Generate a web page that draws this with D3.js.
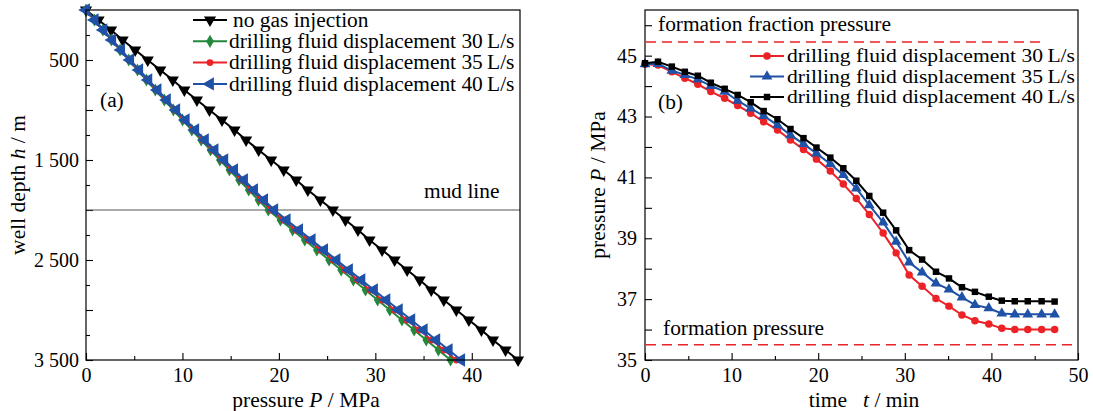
<!DOCTYPE html>
<html>
<head>
<meta charset="utf-8">
<script src="https://cdn.jsdelivr.net/npm/d3@7"></script>
<style>
  body { margin: 0; background: #fff; }
  text { font-family: "Liberation Serif", "Times New Roman", serif; fill: #000; }
</style>
</head>
<body>
<div id="chart"></div>
<script>
////////////////////////////////////////////////////////////
///////////////////////// Data /////////////////////////////
////////////////////////////////////////////////////////////

// (a) well depth every 100 m
var depths = [0, 100, 200, 300, 400, 500, 600, 700, 800, 900, 1000, 1100, 1200, 1300, 1400, 1500, 1600, 1700,
  1800, 1900, 2000, 2100, 2200, 2300, 2400, 2500, 2600, 2700, 2800, 2900, 3000, 3100, 3200, 3300, 3400, 3500]
var noGas = [0, 1.3, 2.6, 3.8, 5.1, 6.4, 7.7, 9.0, 10.2, 11.5, 12.8, 14.1, 15.4, 16.6, 17.9, 19.2, 20.5, 21.8,
  23.0, 24.3, 25.6, 26.9, 28.2, 29.4, 30.7, 32.0, 33.3, 34.6, 35.8, 37.1, 38.4, 39.7, 41.0, 42.2, 43.5, 44.8]
var depthQ30 = [0, 0.87, 1.75, 2.63, 3.53, 4.43, 5.34, 6.26, 7.18, 8.12, 9.06, 10.01, 10.97, 11.94, 12.91, 13.88, 14.87, 15.87,
  16.87, 17.88, 18.9, 20.16, 21.42, 22.68, 23.94, 25.2, 26.46, 27.72, 28.98, 30.24, 31.5, 32.76, 34.02, 35.28, 36.54, 37.8]
var depthQ35 = [0, 0.89, 1.78, 2.68, 3.59, 4.51, 5.43, 6.37, 7.3, 8.26, 9.21, 10.17, 11.15, 12.13, 13.12, 14.11, 15.11, 16.13,
  17.15, 18.17, 19.2, 20.48, 21.76, 23.04, 24.32, 25.6, 26.88, 28.16, 29.44, 30.72, 32.0, 33.28, 34.56, 35.84, 37.12, 38.4]
var depthQ40 = [0, 0.9, 1.81, 2.72, 3.65, 4.58, 5.52, 6.47, 7.42, 8.39, 9.36, 10.34, 11.33, 12.33, 13.33, 14.34, 15.36, 16.39,
  17.43, 18.47, 19.52, 20.81, 22.1, 23.4, 24.69, 25.98, 27.27, 28.56, 29.86, 31.15, 32.44, 33.73, 35.02, 36.32, 37.61, 38.9]
var mudLine = 2000

// (b) bottom hole pressure vs time
var times = [0, 1.5, 3.1, 4.6, 6.1, 7.6, 9.2, 10.7, 12.2, 13.7, 15.3, 16.8, 18.3, 19.8, 21.4, 22.9,
  24.4, 25.9, 27.5, 29.0, 30.5, 32.0, 33.6, 35.1, 36.6, 38.1, 39.7, 41.2, 42.7, 44.2, 45.8, 47.3]
var timeQ30 = [44.72, 44.69, 44.47, 44.26, 44.06, 43.82, 43.60, 43.36, 43.11, 42.83, 42.56, 42.23, 41.92, 41.60, 41.21, 40.78,
  40.31, 39.78, 39.17, 38.52, 37.79, 37.42, 37.02, 36.77, 36.48, 36.29, 36.18, 36.04, 36.00, 36.00, 36.00, 36.00]
var timeQ35 = [44.72, 44.73, 44.51, 44.37, 44.22, 44.01, 43.82, 43.52, 43.27, 43.02, 42.72, 42.39, 42.10, 41.79, 41.44, 41.08,
  40.64, 40.09, 39.52, 38.89, 38.21, 37.88, 37.52, 37.32, 37.06, 36.81, 36.70, 36.53, 36.50, 36.50, 36.50, 36.50]
var timeQ40 = [44.75, 44.80, 44.64, 44.47, 44.34, 44.11, 43.91, 43.71, 43.47, 43.18, 42.91, 42.59, 42.29, 41.98, 41.65, 41.30,
  40.89, 40.39, 39.84, 39.26, 38.61, 38.30, 37.90, 37.68, 37.39, 37.24, 37.08, 36.95, 36.93, 36.93, 36.93, 36.92]
var fracturePressure = 45.45
var formationPressure = 35.5

var labelsA = ["no gas injection", "drilling fluid displacement 30\u2009L/s",
  "drilling fluid displacement 35\u2009L/s", "drilling fluid displacement 40\u2009L/s"]
var labelsB = ["drilling fluid displacement 30\u2009L/s", "drilling fluid displacement 35\u2009L/s",
  "drilling fluid displacement 40\u2009L/s"]

////////////////////////////////////////////////////////////
/////////////////////// Set up /////////////////////////////
////////////////////////////////////////////////////////////

var totalWidth = 1093, totalHeight = 411
var svg = d3.select('#chart').append('svg')
  .attr('width', totalWidth).attr('height', totalHeight)

var FS = 20
var STRETCH = 1.07 // reference typeface is a bit wider than Liberation Serif
var black = '#000', green = '#22883a', red = '#ec2227', blue = '#1f52a6'

var xA = d3.scaleLinear().domain([0, 45]).range([86, 520])
var yA = d3.scaleLinear().domain([0, 3500]).range([10, 360])
var xB = d3.scaleLinear().domain([0, 50]).range([645, 1078])
var yB = d3.scaleLinear().domain([35, 46.5]).range([360, 10])

var fmtThousands = d => d >= 1000 ? Math.floor(d / 1000) + " " + d3.format("03")(d % 1000) : d

function styleAxis(g) {
  g.selectAll('path.domain').remove()
  g.selectAll('line').attr('stroke', '#000').attr('stroke-width', 1.1)
  g.selectAll('text').attr('font-size', FS).attr('fill', '#000')
    .style('font-family', '"Liberation Serif", "Times New Roman", serif')
}

////////////////////////////////////////////////////////////
///////////////////////// (a) //////////////////////////////
////////////////////////////////////////////////////////////

var gA = svg.append('g')

gA.append('g').attr('transform', 'translate(0,360)')
  .call(d3.axisBottom(xA).tickValues(d3.range(0, 41, 10)).tickSizeInner(-7).tickSizeOuter(0).tickPadding(8))
  .call(styleAxis)
gA.append('g').attr('transform', 'translate(0,360)')
  .call(d3.axisBottom(xA).tickValues(d3.range(5, 45, 10)).tickSizeInner(-4).tickSizeOuter(0).tickFormat(''))
  .call(styleAxis)
gA.append('g').attr('transform', 'translate(86,0)')
  .call(d3.axisLeft(yA).tickValues(d3.range(500, 3501, 500)).tickSizeInner(-7).tickSizeOuter(0).tickPadding(7)
    .tickFormat(d => d % 1000 === 500 ? fmtThousands(d) : ''))
  .call(styleAxis)
gA.append('g').attr('transform', 'translate(86,0)')
  .call(d3.axisLeft(yA).tickValues(d3.range(250, 3500, 500)).tickSizeInner(-4).tickSizeOuter(0).tickFormat(''))
  .call(styleAxis)

// mud line
gA.append('line')
  .attr('x1', xA(0)).attr('x2', xA(45)).attr('y1', yA(mudLine)).attr('y2', yA(mudLine))
  .attr('stroke', '#555').attr('stroke-width', 1)
gA.append('text').attr('class', 'stretch').attr('x', 424).attr('y', yA(mudLine) - 12)
  .attr('font-size', FS).text('mud line')

var seriesA = [
  {vals: noGas, color: black, type: d3.symbolTriangle, size: 64, rot: 180},
  {vals: depthQ30, color: green, type: d3.symbolDiamond, size: 50, rot: 0},
  {vals: depthQ35, color: red, type: d3.symbolCircle, size: 36, rot: 0},
  {vals: depthQ40, color: blue, type: d3.symbolTriangle, size: 78, rot: -90}
]

var lineA = d3.line().x(d => xA(d.p)).y(d => yA(d.h))

seriesA.forEach(s => {
  var pts = depths.map((h, i) => ({h: h, p: s.vals[i]}))
  gA.append('path').datum(pts).attr('d', lineA)
    .attr('fill', 'none').attr('stroke', s.color).attr('stroke-width', 2)
  gA.selectAll(null).data(pts).enter().append('path')
    .attr('d', d3.symbol().type(s.type).size(s.size))
    .attr('transform', d => 'translate(' + xA(d.p) + ',' + yA(d.h) + ') rotate(' + s.rot + ')')
    .attr('fill', s.color)
})

// legend (a)
seriesA.forEach((s, i) => {
  var y = 20 + i * 21.3
  var g = gA.append('g')
  g.append('line').attr('x1', 193).attr('x2', 227).attr('y1', y).attr('y2', y)
    .attr('stroke', s.color).attr('stroke-width', 2)
  g.append('path').attr('d', d3.symbol().type(s.type).size(s.size))
    .attr('transform', 'translate(210,' + y + ') rotate(' + s.rot + ')').attr('fill', s.color)
  g.append('text').attr('class', 'stretch').attr('x', i === 0 ? 233 : 229).attr('y', y).attr('dy', '0.33em')
    .attr('font-size', FS).text(labelsA[i])
})

gA.append('text').attr('class', 'stretch').attr('x', 100).attr('y', 107).attr('font-size', FS).text('(a)')

gA.append('rect').attr('x', 86).attr('y', 10).attr('width', 434).attr('height', 350)
  .attr('fill', 'none').attr('stroke', '#000').attr('stroke-width', 1.2)

// axis titles (a)
var tA = gA.append('text').attr('x', 306).attr('y', 407).attr('text-anchor', 'middle').attr('font-size', 21.5)
tA.append('tspan').text('pressure ')
tA.append('tspan').attr('font-style', 'italic').text('P')
tA.append('tspan').text(' / MPa')

var tAy = gA.append('text').attr('transform', 'translate(25,185) rotate(-90)')
  .attr('text-anchor', 'middle').attr('font-size', 21.5)
tAy.append('tspan').text('well depth ')
tAy.append('tspan').attr('font-style', 'italic').text('h')
tAy.append('tspan').text(' / m')

////////////////////////////////////////////////////////////
///////////////////////// (b) //////////////////////////////
////////////////////////////////////////////////////////////

var gB = svg.append('g')

gB.append('g').attr('transform', 'translate(0,360)')
  .call(d3.axisBottom(xB).tickValues(d3.range(0, 51, 10)).tickSizeInner(-7).tickSizeOuter(0).tickPadding(8))
  .call(styleAxis)
gB.append('g').attr('transform', 'translate(0,360)')
  .call(d3.axisBottom(xB).tickValues(d3.range(5, 50, 10)).tickSizeInner(-4).tickSizeOuter(0).tickFormat(''))
  .call(styleAxis)
gB.append('g').attr('transform', 'translate(645,0)')
  .call(d3.axisLeft(yB).tickValues(d3.range(35, 46.5, 1)).tickSizeInner(-7).tickSizeOuter(0).tickPadding(8)
    .tickFormat(d => d % 2 === 1 ? d : ''))
  .call(styleAxis)

// reference pressures
gB.append('line').attr('x1', xB(0) + 1).attr('x2', 1040)
  .attr('y1', yB(fracturePressure)).attr('y2', yB(fracturePressure))
  .attr('stroke', red).attr('stroke-width', 1.5).attr('stroke-dasharray', '10,6')
gB.append('line').attr('x1', xB(0) + 1).attr('x2', 1076)
  .attr('y1', yB(formationPressure)).attr('y2', yB(formationPressure))
  .attr('stroke', red).attr('stroke-width', 1.5).attr('stroke-dasharray', '10,6')
gB.append('text').attr('class', 'stretch').attr('x', 658).attr('y', yB(fracturePressure) - 11).attr('font-size', FS)
  .text('formation fraction pressure')
gB.append('text').attr('class', 'stretch').attr('x', 663).attr('y', yB(formationPressure) - 10).attr('font-size', FS)
  .text('formation pressure')

var seriesB = [
  {vals: timeQ30, color: red, type: d3.symbolCircle, size: 44, rot: 0},
  {vals: timeQ35, color: blue, type: d3.symbolTriangle, size: 50, rot: 0},
  {vals: timeQ40, color: black, type: d3.symbolSquare, size: 42, rot: 0}
]

var lineB = d3.line().x(d => xB(d.t)).y(d => yB(d.p))

seriesB.forEach(s => {
  var pts = times.map((t, i) => ({t: t, p: s.vals[i]}))
  gB.append('path').datum(pts).attr('d', lineB)
    .attr('fill', 'none').attr('stroke', s.color).attr('stroke-width', 2)
  gB.selectAll(null).data(pts).enter().append('path')
    .attr('d', d3.symbol().type(s.type).size(s.size))
    .attr('transform', d => 'translate(' + xB(d.t) + ',' + yB(d.p) + ')')
    .attr('fill', s.color)
})

// legend (b) - rows sit tight in the reference, slightly smaller type keeps them apart
seriesB.forEach((s, i) => {
  var y = 56 + i * 20.5
  var g = gB.append('g')
  g.append('line').attr('x1', 750).attr('x2', 784).attr('y1', y).attr('y2', y)
    .attr('stroke', s.color).attr('stroke-width', 2)
  g.append('path').attr('d', d3.symbol().type(s.type).size(s.size))
    .attr('transform', 'translate(767,' + y + ')').attr('fill', s.color)
  g.append('text').attr('class', 'stretch').attr('x', 787).attr('y', y).attr('dy', '0.33em')
    .attr('font-size', 19.5).attr('data-w', 288).text(labelsB[i])
})

gB.append('text').attr('class', 'stretch').attr('x', 658).attr('y', 109).attr('font-size', FS).text('(b)')

gB.append('rect').attr('x', 645).attr('y', 10).attr('width', 433).attr('height', 350)
  .attr('fill', 'none').attr('stroke', '#000').attr('stroke-width', 1.2)

var tB = gB.append('text').attr('x', 864).attr('y', 407).attr('text-anchor', 'middle').attr('font-size', 21.5)
tB.append('tspan').text('time\u2002 ')
tB.append('tspan').attr('font-style', 'italic').text('t')
tB.append('tspan').text(' / min')

var tBy = gB.append('text').attr('transform', 'translate(605,185) rotate(-90)')
  .attr('text-anchor', 'middle').attr('font-size', 21.5)
tBy.append('tspan').text('pressure ')
tBy.append('tspan').attr('font-style', 'italic').text('P')
tBy.append('tspan').text(' / MPa')

// widen the plain labels to the reference's wider face
svg.selectAll('text.stretch').each(function() {
  var t = d3.select(this)
  var w = t.attr('data-w') ? +t.attr('data-w') : this.getComputedTextLength() * STRETCH
  t.attr('textLength', w).attr('lengthAdjust', 'spacingAndGlyphs')
})
</script>
</body>
</html>
